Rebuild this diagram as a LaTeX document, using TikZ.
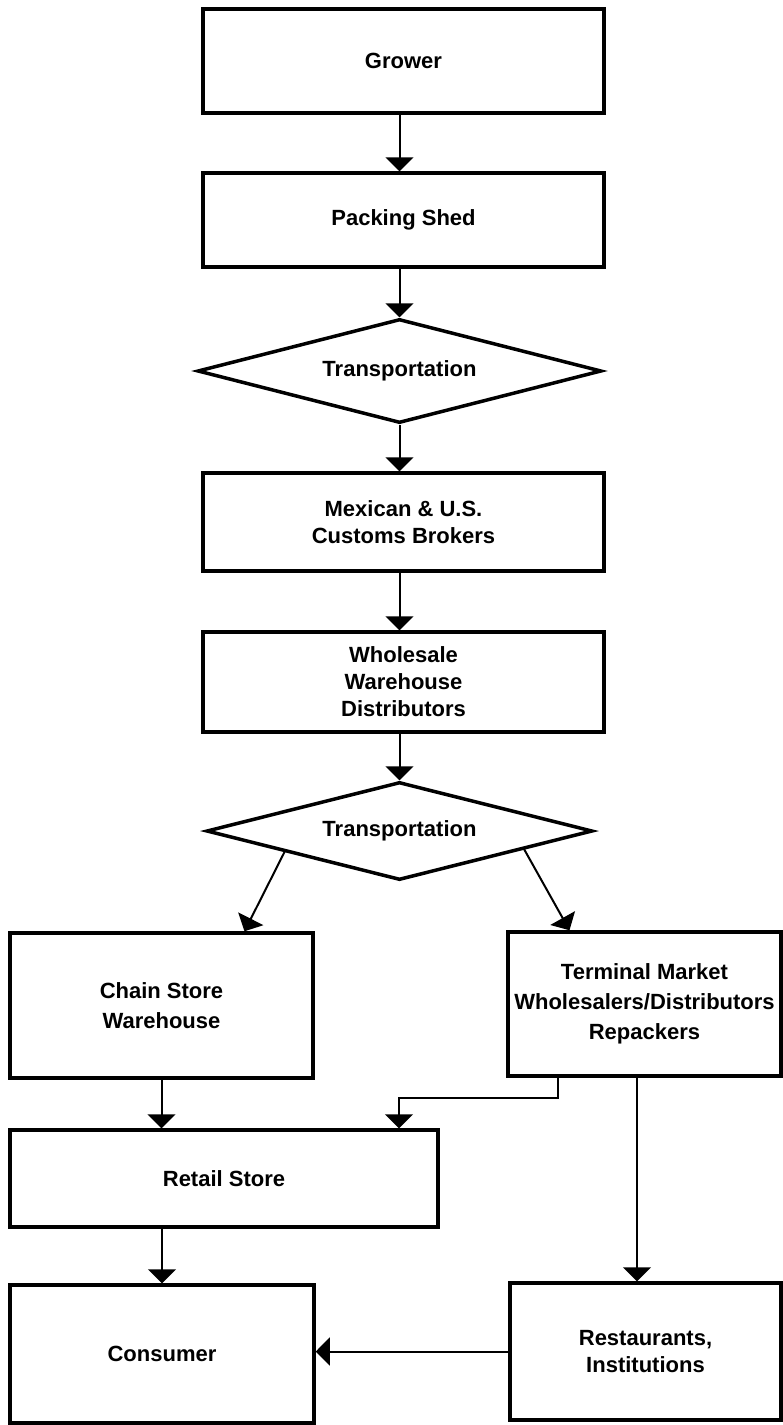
\documentclass[tikz,border=0pt]{standalone}
\usepackage{fontspec}
\setmainfont{Liberation Sans}
\usetikzlibrary{arrows.meta,shapes.geometric,calc}
\tikzset{
  box/.style={draw=black, line width=3.5pt, fill=white, inner sep=4pt, align=center,
    font=\bfseries\fontsize{22}{27}\selectfont},
  dia/.style={draw=black, line width=3.5pt, diamond, inner sep=0pt, align=center,
    font=\bfseries\fontsize{22}{27}\selectfont},
  flow/.style={line width=2pt, -{Triangle[width=28pt,length=14pt]}},
}
\begin{document}
\begin{tikzpicture}[x=1pt,y=-1pt]
\useasboundingbox (0,0) rectangle (783,1425);
% boxes
\node[box, minimum width=401pt, minimum height=104pt] (grower) at (403.5,61) {Grower};
\node[box, minimum width=401pt, minimum height=94pt] (packing) at (403.5,220) {\raisebox{5pt}{Packing Shed}};
\node[dia, aspect=3.88, minimum width=404pt, minimum height=104pt] (trans1) at (399.5,371) {Transportation};
\node[box, minimum width=401pt, minimum height=98pt] (mexican) at (403.5,522) {Mexican \& U.S.\\Customs Brokers};
\node[box, minimum width=401pt, minimum height=100pt] (wholesale) at (403.5,682) {Wholesale\\Warehouse\\Distributors};
\node[dia, aspect=3.94, minimum width=386pt, minimum height=98pt] (trans2) at (399.5,831) {Transportation};
\node[box, minimum width=303pt, minimum height=145pt] (chain) at (161.5,1005.5) {Chain Store\\[3pt]Warehouse};
\node[box, minimum width=273pt, minimum height=144pt] (terminal) at (644.5,1004) {Terminal Market\\[3pt]Wholesalers/Distributors\\[3pt]Repackers};
\node[box, minimum width=428pt, minimum height=97pt] (retail) at (224,1178.5) {Retail Store};
\node[box, minimum width=304pt, minimum height=138pt] (consumer) at (162,1354) {Consumer};
\node[box, minimum width=271pt, minimum height=137pt] (restaurants) at (645.5,1351.5) {Restaurants,\\Institutions};
% connectors
\draw[flow] ([xshift=-4pt]grower.south) -- ([xshift=-4pt]packing.north);
\draw[flow] ([xshift=-4pt]packing.south) -- (trans1.north);
\draw[flow] (trans1.south) -- (trans1.south |- mexican.north);
\draw[flow] ([xshift=-4pt]mexican.south) -- ([xshift=-4pt]wholesale.north);
\draw[flow] ([xshift=-4pt]wholesale.south) -- (trans2.north);
\draw[flow] ($(trans2.west)!0.41!(trans2.south)$) -- ([xshift=83pt]chain.north);
\draw[flow] ($(trans2.south)!0.64!(trans2.east)$) -- ([xshift=-75pt]terminal.north);
\draw[flow] (chain.south) -- (chain.south |- retail.north);
\draw[flow] ([xshift=-86.5pt]terminal.south) -- ++(0,20) -| ([xshift=175pt]retail.north);
\draw[flow] ([xshift=-7.5pt]terminal.south) -- ([xshift=-8.5pt]restaurants.north);
\draw[flow] (consumer.north |- retail.south) -- (consumer.north);
\draw[flow] (restaurants.west) -- (restaurants.west -| consumer.east);
\end{tikzpicture}
\end{document}
